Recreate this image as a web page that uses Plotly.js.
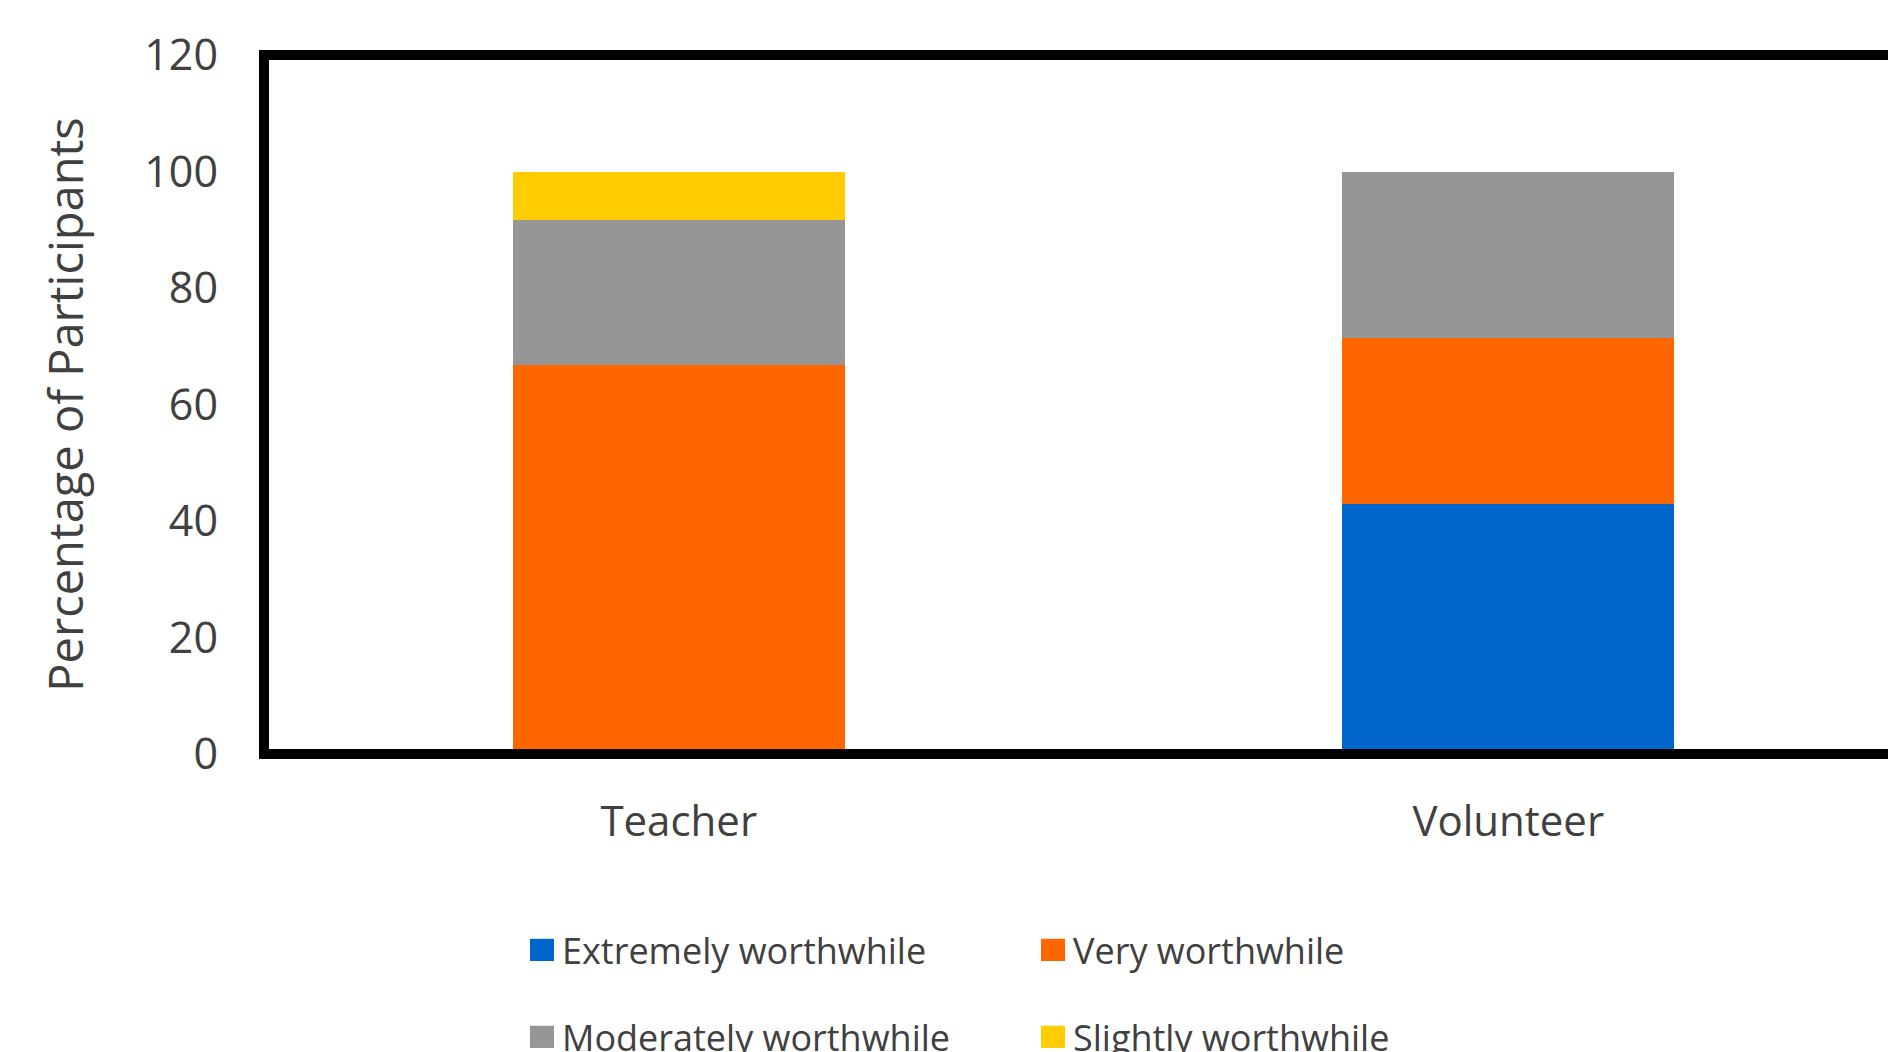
<!DOCTYPE html>
<html>
<head>
<meta charset="utf-8">
<script src="https://cdn.plot.ly/plotly-3.0.1.min.js"></script>
<style>
  html, body { margin: 0; padding: 0; overflow: hidden; background: #fff; }
  #chart { width: 1940px; height: 1100px; }
</style>
</head>
<body>
<div id="chart"></div>
<script>
const categories = ["Teacher", "Volunteer"];
const extremelyWorthwhile = [0, 42.9];
const veryWorthwhile = [66.7, 28.6];
const moderatelyWorthwhile = [25.0, 28.5];
const slightlyWorthwhile = [8.3, 0];
const yTickValues = [0, 20, 40, 60, 80, 100, 120];

const font = "'Open Sans', 'Noto Sans', sans-serif";
const textColor = "#404040";

function bar(name, values, color, legend) {
  return {
    type: "bar", name: name, x: categories, y: values,
    marker: { color: color, line: { width: 0 } },
    width: 0.4, legend: legend, hoverinfo: "x+y+name"
  };
}

const data = [
  bar("Extremely worthwhile", extremelyWorthwhile, "#0066CC", "legend"),
  bar("Very worthwhile", veryWorthwhile, "#FF6600", "legend"),
  bar("Moderately worthwhile", moderatelyWorthwhile, "#969696", "legend2"),
  bar("Slightly worthwhile", slightlyWorthwhile, "#FFCC00", "legend2")
];

const legendCommon = {
  orientation: "h", xanchor: "left", yanchor: "middle",
  font: { family: font, size: 36, color: textColor },
  entrywidth: 466, entrywidthmode: "pixels",
  traceorder: "normal", bgcolor: "rgba(0,0,0,0)"
};

const layout = {
  width: 1940, height: 1100,
  margin: { l: 264, r: 17, t: 55, b: 346 },
  paper_bgcolor: "#ffffff", plot_bgcolor: "#ffffff",
  barmode: "stack",
  showlegend: true,
  font: { family: font, color: textColor },
  xaxis: {
    type: "category", range: [-0.5, 1.5],
    showline: false, ticks: "", showgrid: false, zeroline: false,
    tickfont: { family: font, size: 42, color: textColor },
    ticklabelstandoff: 39, automargin: false
  },
  yaxis: {
    range: [0, 120], tickvals: yTickValues,
    showline: false, ticks: "", showgrid: false, zeroline: false,
    tickfont: { family: font, size: 43, color: textColor },
    ticklabelstandoff: 45, automargin: false,
    title: { text: "Percentage of Participants", font: { family: font, size: 47, color: textColor }, standoff: 45 }
  },
  shapes: [{
    type: "rect", xref: "paper", yref: "paper", x0: 0, x1: 1, y0: 0, y1: 1,
    line: { color: "#000", width: 10 }, fillcolor: "rgba(0,0,0,0)", layer: "above"
  }],
  legend: Object.assign({}, legendCommon, { x: (522 - 264) / 1659, y: -0.2804 }),
  legend2: Object.assign({}, legendCommon, { x: (522 - 264) / 1659, y: -0.4048 })
};

Plotly.newPlot("chart", data, layout, { displayModeBar: false, staticPlot: true }).then(function (gd) {
  gd.querySelectorAll(".legendpoints path").forEach(function (p) {
    const t = p.getAttribute("transform") || "";
    p.setAttribute("transform", t + " scale(2,1.85)");
  });
});
</script>
</body>
</html>
